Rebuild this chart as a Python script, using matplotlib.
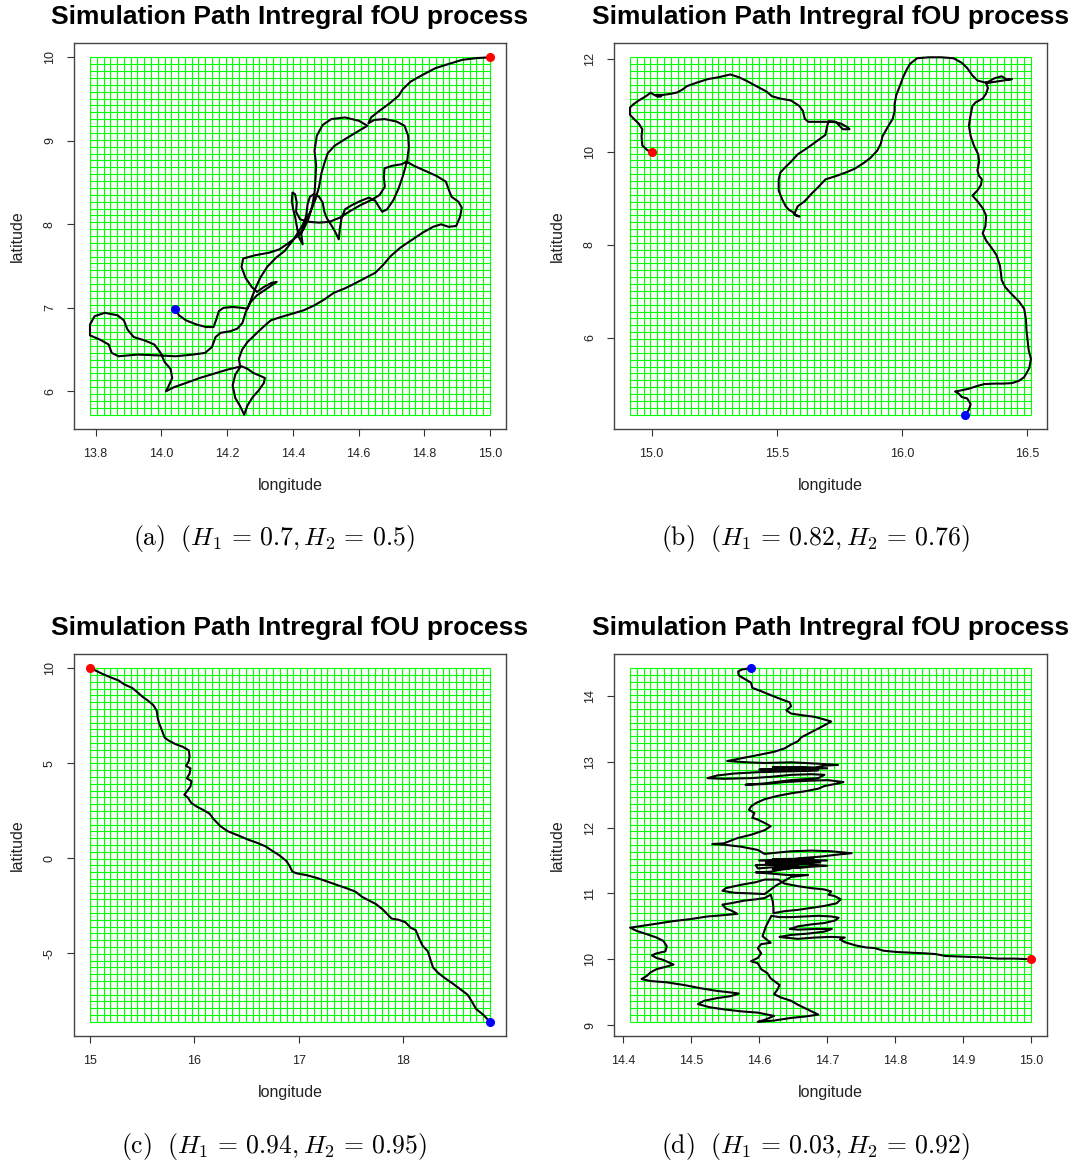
import matplotlib
matplotlib.use("Agg")
import matplotlib.pyplot as plt
import numpy as np

plt.rcParams['font.family'] = ['Liberation Sans', 'DejaVu Sans']
plt.rcParams['mathtext.fontset'] = 'cm'

# ---- panel (a): H1 = 0.7, H2 = 0.5 ----
lon_a = [15.000, 14.958, 14.916, 14.874, 14.834, 14.795, 14.759, 14.735, 14.722, 14.695, 14.664, 14.638, 14.630,
         14.648, 14.680, 14.716, 14.740, 14.751, 14.753, 14.748, 14.735, 14.722, 14.706, 14.687, 14.672, 14.662,
         14.651, 14.632, 14.606, 14.580, 14.559, 14.548, 14.543, 14.540,
         14.529, 14.517, 14.504, 14.496, 14.491, 14.480, 14.464, 14.452, 14.445, 14.441, 14.433, 14.426, 14.430,
         14.418, 14.412, 14.407, 14.401, 14.397, 14.399, 14.407, 14.412, 14.410, 14.422, 14.448, 14.480, 14.512,
         14.543, 14.575, 14.606, 14.638, 14.664, 14.680, 14.677, 14.679, 14.701, 14.732, 14.746,
         14.769, 14.803, 14.837, 14.866, 14.874, 14.883, 14.904, 14.914, 14.909, 14.897, 14.874, 14.851, 14.827,
         14.795, 14.761, 14.727, 14.698, 14.674, 14.651, 14.622, 14.588, 14.557, 14.525, 14.496, 14.466, 14.433,
         14.399, 14.364, 14.333, 14.307, 14.283, 14.262, 14.246, 14.236,
         14.240, 14.225, 14.217, 14.225, 14.240, 14.252, 14.262, 14.278, 14.296, 14.312, 14.315, 14.298, 14.280,
         14.262, 14.244,
         14.201, 14.159, 14.117, 14.075, 14.039, 14.014,
         14.023, 14.033, 14.028, 14.010, 13.998, 13.979, 13.949, 13.916, 13.897, 13.886, 13.867, 13.828, 13.797,
         13.783, 13.783, 13.813, 13.840, 13.849, 13.870, 13.928, 13.991, 14.044, 14.096, 14.133, 14.154, 14.165,
         14.180, 14.210,
         14.231, 14.247, 14.256, 14.270, 14.291, 14.317, 14.343, 14.351, 14.336, 14.312, 14.291, 14.275, 14.256,
         14.244, 14.249, 14.286, 14.328, 14.359, 14.385, 14.412, 14.433, 14.448, 14.459, 14.466, 14.469, 14.471,
         14.466, 14.473, 14.491, 14.517, 14.559, 14.601, 14.627, 14.601, 14.559, 14.527, 14.506, 14.496, 14.487,
         14.480, 14.469, 14.454, 14.438, 14.422, 14.401, 14.375, 14.349, 14.322, 14.301, 14.286, 14.273, 14.262,
         14.244, 14.217, 14.189, 14.175, 14.168, 14.159, 14.136, 14.107, 14.075, 14.054, 14.042]
lat_a = [10.00, 9.99, 9.97, 9.92, 9.87, 9.79, 9.71, 9.62, 9.54, 9.45, 9.36, 9.28, 9.21,
         9.25, 9.26, 9.23, 9.18, 9.06, 8.92, 8.76, 8.58, 8.43, 8.29, 8.18, 8.15, 8.21,
         8.28, 8.32, 8.28, 8.23, 8.18, 8.07, 7.94, 7.82,
         7.91, 7.99, 8.07, 8.15, 8.26, 8.33, 8.36, 8.33, 8.24, 8.11, 7.99, 7.88, 7.76,
         7.85, 7.98, 8.09, 8.18, 8.28, 8.38, 8.36, 8.26, 8.15, 8.06, 8.03, 8.02, 8.03,
         8.08, 8.16, 8.23, 8.29, 8.35, 8.45, 8.56, 8.67, 8.70, 8.72, 8.75,
         8.70, 8.64, 8.58, 8.51, 8.42, 8.33, 8.27, 8.20, 8.09, 7.98, 7.97, 8.00, 7.97,
         7.90, 7.81, 7.72, 7.62, 7.51, 7.42, 7.36, 7.29, 7.23, 7.18, 7.10, 7.03, 6.97,
         6.93, 6.89, 6.85, 6.76, 6.67, 6.59, 6.50, 6.39,
         6.29, 6.20, 6.07, 5.92, 5.82, 5.72, 5.83, 5.93, 6.01, 6.10, 6.16, 6.19, 6.22,
         6.27, 6.30,
         6.26, 6.21, 6.16, 6.10, 6.05, 6.00,
         6.07, 6.16, 6.27, 6.35, 6.46, 6.56, 6.61, 6.65, 6.74, 6.85, 6.91, 6.94, 6.90,
         6.80, 6.67, 6.62, 6.56, 6.46, 6.42, 6.44, 6.43, 6.42, 6.44, 6.46, 6.53, 6.65,
         6.70, 6.72,
         6.75, 6.82, 6.94, 7.06, 7.15, 7.22, 7.29, 7.31, 7.30, 7.25, 7.19, 7.25, 7.36,
         7.49, 7.59, 7.63, 7.66, 7.70, 7.77, 7.85, 7.94, 8.07, 8.22, 8.37, 8.54, 8.71,
         8.88, 9.06, 9.19, 9.26, 9.28, 9.24, 9.18, 9.12, 9.02, 8.94, 8.85, 8.73, 8.61,
         8.45, 8.30, 8.15, 8.05, 7.94, 7.81, 7.68, 7.60, 7.49, 7.36, 7.23, 7.10, 6.99,
         7.00, 7.01, 7.00, 6.96, 6.87, 6.77, 6.77, 6.80, 6.85, 6.91, 6.98]

# ---- panel (b): H1 = 0.82, H2 = 0.76 ----
lon_b = [15.000, 14.983, 14.963, 14.960, 14.963, 14.949, 14.928, 14.914, 14.914, 14.928, 14.949, 14.977, 14.997,
         15.004, 15.025, 15.039, 15.018, 15.046, 15.073, 15.101, 15.122, 15.142, 15.184, 15.225, 15.267, 15.315,
         15.349, 15.377, 15.418, 15.460, 15.481, 15.515, 15.557, 15.591, 15.605, 15.612, 15.626, 15.653, 15.695,
         15.729, 15.757, 15.784, 15.791, 15.764, 15.750, 15.736, 15.708, 15.702, 15.695, 15.667, 15.626, 15.584,
         15.557, 15.536, 15.515, 15.508, 15.508, 15.522, 15.536, 15.550, 15.563, 15.577, 15.591, 15.570, 15.584,
         15.612, 15.639, 15.667, 15.695, 15.736, 15.777, 15.812, 15.847, 15.874, 15.902, 15.916, 15.923, 15.943,
         15.964, 15.971, 15.971, 15.978, 15.992, 16.005, 16.019, 16.033, 16.061, 16.109, 16.157, 16.206, 16.240,
         16.261, 16.282, 16.302, 16.330, 16.344, 16.371, 16.399, 16.420, 16.440, 16.406, 16.357, 16.337, 16.344,
         16.337, 16.323, 16.295, 16.282, 16.275, 16.268, 16.275, 16.288, 16.305, 16.309, 16.302, 16.309, 16.320,
         16.316, 16.302, 16.282, 16.302, 16.323, 16.337, 16.334, 16.323, 16.337, 16.358, 16.378, 16.392, 16.396,
         16.399, 16.413, 16.440, 16.468, 16.489, 16.496, 16.498, 16.503, 16.507, 16.516, 16.509, 16.489, 16.468,
         16.440, 16.406, 16.371, 16.330, 16.302, 16.268, 16.233, 16.213, 16.226, 16.240, 16.261, 16.275, 16.268,
         16.254]
lat_b = [10.00, 10.04, 10.14, 10.34, 10.49, 10.61, 10.72, 10.80, 10.96, 11.03, 11.11, 11.20, 11.28,
         11.25, 11.19, 11.20, 11.23, 11.23, 11.25, 11.28, 11.34, 11.42, 11.50, 11.57, 11.61, 11.67,
         11.61, 11.54, 11.42, 11.30, 11.20, 11.15, 11.11, 10.99, 10.88, 10.72, 10.65, 10.65, 10.65,
         10.65, 10.61, 10.53, 10.49, 10.49, 10.57, 10.65, 10.66, 10.57, 10.37, 10.26, 10.10, 9.95,
         9.79, 9.68, 9.56, 9.41, 9.17, 8.98, 8.83, 8.75, 8.71, 8.63, 8.61, 8.66, 8.83,
         8.94, 9.10, 9.25, 9.41, 9.48, 9.56, 9.64, 9.76, 9.87, 10.03, 10.18, 10.34, 10.53,
         10.72, 10.88, 11.03, 11.23, 11.42, 11.61, 11.77, 11.90, 12.02, 12.04, 12.04, 12.02, 11.92,
         11.81, 11.65, 11.54, 11.50, 11.51, 11.59, 11.63, 11.56, 11.57, 11.54, 11.50, 11.48, 11.38,
         11.26, 11.15, 11.07, 10.99, 10.80, 10.57, 10.34, 10.14, 9.95, 9.79, 9.60, 9.48, 9.41,
         9.29, 9.17, 9.06, 8.94, 8.79, 8.63, 8.40, 8.25, 8.09, 7.94, 7.78, 7.55, 7.39,
         7.24, 7.09, 6.93, 6.78, 6.62, 6.39, 6.16, 5.92, 5.73, 5.54, 5.34, 5.15, 5.07,
         5.02, 5.01, 5.01, 5.00, 4.96, 4.90, 4.86, 4.84, 4.80, 4.72, 4.69, 4.57, 4.45,
         4.34]

# ---- panel (c): H1 = 0.94, H2 = 0.95 ----
lon_c = [15.000, 15.043, 15.126, 15.209, 15.275, 15.324, 15.407, 15.457, 15.507, 15.556, 15.606, 15.639, 15.649,
         15.662, 15.689, 15.715, 15.755, 15.821, 15.887, 15.947, 15.954, 15.947, 15.920, 15.963, 15.954, 15.927,
         15.973, 15.963, 15.937, 15.904, 15.937, 15.970, 16.020, 16.086, 16.146, 16.185, 16.252, 16.318, 16.417,
         16.516, 16.599, 16.682, 16.748, 16.814, 16.881, 16.914, 16.940, 16.980, 17.079, 17.179, 17.278, 17.377,
         17.477, 17.543, 17.609, 17.675, 17.742, 17.808, 17.857, 17.891, 17.957, 18.023, 18.073, 18.122, 18.155,
         18.188, 18.238, 18.265, 18.288, 18.338, 18.404, 18.470, 18.536, 18.619, 18.652, 18.702, 18.768, 18.834]
lat_c = [10.00, 9.90, 9.68, 9.49, 9.35, 9.16, 8.95, 8.72, 8.48, 8.29, 8.06, 7.77, 7.39,
         7.11, 6.73, 6.35, 6.19, 6.00, 5.87, 5.68, 5.39, 5.11, 4.86, 4.73, 4.44, 4.21,
         4.06, 3.78, 3.58, 3.34, 3.20, 2.92, 2.73, 2.54, 2.35, 2.06, 1.68, 1.43, 1.21,
         0.98, 0.82, 0.63, 0.39, 0.16, -0.13, -0.41, -0.70, -0.79, -0.89, -1.04, -1.23, -1.42,
         -1.61, -1.75, -2.03, -2.22, -2.41, -2.70, -2.98, -3.17, -3.23, -3.36, -3.65, -3.78, -4.22,
         -4.60, -4.89, -5.36, -5.74, -6.03, -6.31, -6.56, -6.83, -7.17, -7.46, -7.93, -8.22, -8.60]

# ---- panel (d): H1 = 0.03, H2 = 0.92 ----
lon_d = [15.000, 14.976, 14.951, 14.925, 14.900, 14.874, 14.859, 14.844, 14.823, 14.803, 14.783, 14.770, 14.757,
         14.742, 14.726, 14.719, 14.726,
         14.706, 14.682, 14.657, 14.637, 14.630, 14.647, 14.672, 14.696, 14.707, 14.682, 14.657, 14.645, 14.657,
         14.677, 14.696, 14.712, 14.717, 14.706, 14.687, 14.667, 14.647, 14.630, 14.618,
         14.610, 14.605, 14.617, 14.603,
         14.598, 14.603, 14.598, 14.588, 14.598, 14.603, 14.612, 14.617, 14.630, 14.627, 14.622, 14.632, 14.647,
         14.657, 14.667, 14.677, 14.687, 14.667, 14.647, 14.622, 14.598, 14.608, 14.622, 14.598, 14.573, 14.548,
         14.528, 14.510, 14.519, 14.538, 14.558, 14.570, 14.563, 14.538, 14.514, 14.489, 14.464, 14.440, 14.427,
         14.435, 14.440, 14.449, 14.464, 14.474, 14.459, 14.449, 14.442, 14.449, 14.462, 14.464, 14.459, 14.449,
         14.435, 14.420, 14.410, 14.430, 14.449, 14.474, 14.499, 14.524, 14.548, 14.568, 14.559, 14.551, 14.546,
         14.558, 14.578, 14.595, 14.608, 14.617,
         14.620, 14.621, 14.621,
         14.637, 14.657, 14.677, 14.696, 14.714, 14.720, 14.711, 14.702, 14.706, 14.696, 14.677, 14.657, 14.637,
         14.628,
         14.608, 14.595, 14.573, 14.551, 14.546, 14.563, 14.588, 14.608,
         14.625, 14.647, 14.672, 14.642, 14.595, 14.617, 14.632, 14.647, 14.657, 14.637, 14.598, 14.595, 14.660,
         14.610, 14.700, 14.620, 14.680, 14.600, 14.690, 14.610, 14.670, 14.620, 14.700, 14.640,
         14.627, 14.667, 14.692, 14.716, 14.736, 14.706, 14.677, 14.647, 14.608,
         14.598, 14.573, 14.548, 14.531, 14.548, 14.568, 14.588,
         14.608, 14.617, 14.608, 14.598, 14.590, 14.593, 14.585, 14.588, 14.595, 14.608, 14.627, 14.647, 14.667,
         14.687, 14.696, 14.716, 14.724, 14.701, 14.672, 14.637, 14.608, 14.580, 14.608, 14.647, 14.687, 14.696,
         14.677, 14.647, 14.617, 14.588, 14.548, 14.524, 14.538, 14.563, 14.598, 14.632, 14.667, 14.687,
         14.600, 14.700, 14.620, 14.682,
         14.696, 14.716, 14.687, 14.647, 14.608, 14.583, 14.553, 14.573, 14.598, 14.622, 14.637, 14.647, 14.657,
         14.662, 14.677, 14.692, 14.701, 14.706, 14.696, 14.682, 14.667, 14.647, 14.640, 14.647, 14.645, 14.632,
         14.617, 14.603, 14.590, 14.588, 14.578, 14.570, 14.569, 14.575, 14.588]
lat_d = [10.00, 10.01, 10.01, 10.03, 10.04, 10.05, 10.08, 10.09, 10.10, 10.11, 10.13, 10.17, 10.18,
         10.21, 10.26, 10.30, 10.33,
         10.34, 10.33, 10.31, 10.33, 10.34, 10.37, 10.39, 10.42, 10.46, 10.46, 10.45, 10.46, 10.50,
         10.53, 10.55, 10.59, 10.63, 10.65, 10.66, 10.65, 10.64, 10.64, 10.66,
         10.50, 10.35, 10.25, 10.23,
         10.17, 10.09, 10.02, 9.97, 9.94, 9.85, 9.79, 9.71, 9.61, 9.54, 9.47, 9.42, 9.37,
         9.31, 9.26, 9.21, 9.16, 9.13, 9.11, 9.07, 9.05, 9.08, 9.14, 9.19, 9.21, 9.24,
         9.27, 9.32, 9.37, 9.41, 9.44, 9.48, 9.49, 9.52, 9.56, 9.61, 9.65, 9.67, 9.70,
         9.75, 9.80, 9.85, 9.89, 9.92, 9.99, 10.02, 10.06, 10.09, 10.12, 10.20, 10.28, 10.33,
         10.38, 10.43, 10.48, 10.51, 10.54, 10.58, 10.61, 10.65, 10.67, 10.69, 10.74, 10.77, 10.83,
         10.85, 10.89, 10.91, 10.93, 10.98,
         10.88, 10.78, 10.70,
         10.73, 10.75, 10.78, 10.81, 10.85, 10.91, 10.96, 10.98, 11.03, 11.06, 11.08, 11.11, 11.15,
         11.21,
         11.21, 11.17, 11.13, 11.08, 11.04, 11.01, 11.00, 10.99,
         11.12, 11.25, 11.28, 11.28, 11.32, 11.33, 11.36, 11.38, 11.43, 11.41, 11.38, 11.43, 11.45,
         11.47, 11.50, 11.52, 11.53, 11.50, 11.47, 11.44, 11.40, 11.37, 11.42, 11.46,
         11.49, 11.54, 11.56, 11.59, 11.61, 11.64, 11.65, 11.64, 11.60,
         11.66, 11.71, 11.74, 11.75, 11.76, 11.84, 11.89,
         11.96, 12.02, 12.07, 12.12, 12.15, 12.22, 12.27, 12.32, 12.37, 12.43, 12.48, 12.52, 12.55,
         12.59, 12.63, 12.67, 12.69, 12.72, 12.71, 12.69, 12.66, 12.65, 12.67, 12.72, 12.75, 12.80,
         12.81, 12.80, 12.77, 12.75, 12.74, 12.75, 12.79, 12.82, 12.84, 12.85, 12.86, 12.87,
         12.88, 12.90, 12.92, 12.91,
         12.94, 12.95, 12.97, 12.99, 12.98, 12.99, 13.01, 13.05, 13.10, 13.15, 13.20, 13.26, 13.31,
         13.37, 13.45, 13.53, 13.58, 13.61, 13.64, 13.68, 13.70, 13.73, 13.78, 13.84, 13.90, 13.95,
         14.01, 14.07, 14.12, 14.20, 14.26, 14.31, 14.37, 14.40, 14.42]

eq = r'\,=\,'
panels = [
    (lon_a, lat_a, [13.8, 14.0, 14.2, 14.4, 14.6, 14.8, 15.0], ['13.8', '14.0', '14.2', '14.4', '14.6', '14.8', '15.0'],
     [6, 7, 8, 9, 10], ['6', '7', '8', '9', '10'], 'a', '0.7', '0.5'),
    (lon_b, lat_b, [15.0, 15.5, 16.0, 16.5], ['15.0', '15.5', '16.0', '16.5'],
     [6, 8, 10, 12], ['6', '8', '10', '12'], 'b', '0.82', '0.76'),
    (lon_c, lat_c, [15, 16, 17, 18], ['15', '16', '17', '18'],
     [-5, 0, 5, 10], ['-5', '0', '5', '10'], 'c', '0.94', '0.95'),
    (lon_d, lat_d, [14.4, 14.5, 14.6, 14.7, 14.8, 14.9, 15.0], ['14.4', '14.5', '14.6', '14.7', '14.8', '14.9', '15.0'],
     [9, 10, 11, 12, 13, 14], ['9', '10', '11', '12', '13', '14'], 'd', '0.03', '0.92'),
]

W, H = 1078, 1169
fig = plt.figure(figsize=(W / 100, H / 100), dpi=100)

# axes boxes in pixels: left, top, right, bottom
boxes = [(74, 43, 506, 429), (614, 43, 1047, 429), (74, 654, 506, 1036), (614, 654, 1047, 1036)]
caption_x = [274, 815, 274, 815]
caption_y = [538, 538, 1147, 1147]

for (lon, lat, xt, xtl, yt, ytl, tag, h1, h2), (l, t, r, b), cx, cy in zip(panels, boxes, caption_x, caption_y):
    ax = fig.add_axes([l / W, 1 - b / H, (r - l) / W, (b - t) / H])
    lon = np.array(lon)
    lat = np.array(lat)
    x0, x1 = lon.min(), lon.max()
    y0, y1 = lat.min(), lat.max()

    # green lattice over the data range
    ax.vlines(np.linspace(x0, x1, 60), y0, y1, color='#00ff00', lw=0.8, zorder=1)
    ax.hlines(np.linspace(y0, y1, 53), x0, x1, color='#00ff00', lw=0.8, zorder=1)

    ax.plot(lon, lat, color='black', lw=1.5, zorder=3)
    ax.plot(lon[0], lat[0], 'o', color='red', ms=5.5, mec='red', zorder=4)
    ax.plot(lon[-1], lat[-1], 'o', color='blue', ms=5.5, mec='blue', zorder=4)

    dx = (x1 - x0) * 0.04
    dy = (y1 - y0) * 0.04
    ax.set_xlim(x0 - dx, x1 + dx)
    ax.set_ylim(y0 - dy, y1 + dy)

    ax.set_xticks(xt)
    ax.set_xticklabels(xtl)
    ax.set_yticks(yt)
    ax.set_yticklabels(ytl, rotation=90, va='center')
    ax.tick_params(length=5, width=0.8, color='#333333', labelsize=9, labelcolor='#222222')
    ax.tick_params(axis='x', pad=9)
    ax.tick_params(axis='y', pad=8)
    for s in ax.spines.values():
        s.set_color('#444444')
        s.set_linewidth(1.0)

    ax.set_xlabel('longitude', fontsize=11.5, color='#222222')
    ax.set_ylabel('latitude', fontsize=11.5, color='#222222')
    ax.xaxis.set_label_coords(0.5, -(478 - 429) / (b - t))
    ax.yaxis.set_label_coords(-(74 - 25) / (r - l), 0.5)

    ax.set_title('Simulation Path Intregral fOU process', fontsize=19, fontweight='bold', pad=14)

    cap = r'$\mathrm{(' + tag + r')}\ \ (H_1' + eq + h1 + r', H_2' + eq + h2 + r')$'
    fig.text(cx / W, 1 - cy / H, cap, fontsize=18.5, ha='center', va='center')

fig.savefig('out.png', dpi=100)
